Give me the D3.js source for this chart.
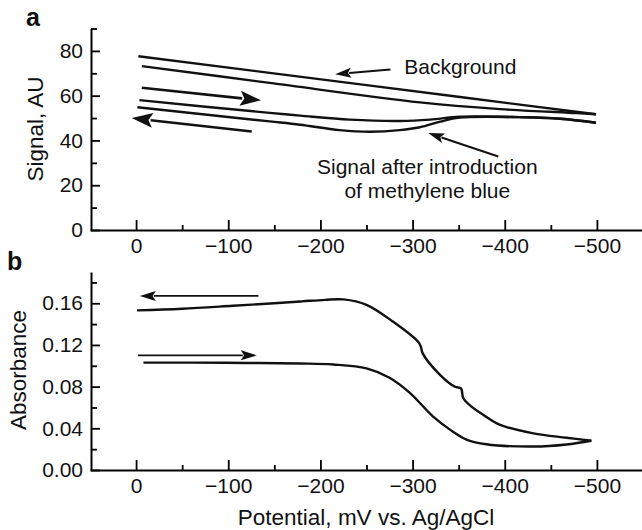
<!DOCTYPE html>
<html lang="en">
<head>
<meta charset="utf-8">
<title>Signal and absorbance vs potential</title>
<script src="https://cdn.jsdelivr.net/npm/d3@7"></script>
<style>
  body { margin: 0; background: #fff; }
  svg text { font-family: "Liberation Sans", Arial, Helvetica, sans-serif; fill: #111; }
</style>
</head>
<body>
<svg width="642" height="530"></svg>
<script>
// ---- data, panel a (signal, AU) : [potential mV, signal]
const bgUpper = [[-2.5, 77.6], [-250, 64.7], [-499, 51.7]];
const bgLower = [[-6.2, 73.2], [-145, 65.7], [-308, 57.0], [-395, 54.0], [-478, 52.2], [-499, 51.7]];
const mbForward = [[-3.6, 58.0], [-145, 52.3], [-178, 51.1], [-232, 49.3], [-286, 48.7], [-319, 49.3],
                   [-351, 50.6], [-416, 50.4], [-460, 49.7], [-499, 47.9]];
const mbReverse = [[-1.4, 54.8], [-145, 48.5], [-178, 47.0], [-221, 44.6], [-254, 43.9], [-286, 44.6],
                   [-308, 45.9], [-330, 48.4], [-351, 50.2], [-416, 50.4], [-460, 49.7], [-499, 47.9]];

// ---- data, panel b (absorbance)
const absReturn = [[-1, 0.1532], [-50, 0.1548], [-105, 0.1576], [-150, 0.1600], [-180, 0.1618], [-205, 0.1633],
                   [-225, 0.1637], [-250, 0.1585], [-279, 0.1422], [-306, 0.1230], [-309, 0.1182], [-311, 0.1119],
                   [-330, 0.0911], [-346, 0.0799], [-352.5, 0.0783], [-355, 0.0688], [-362, 0.0623], [-377, 0.0527],
                   [-395, 0.0432], [-431, 0.0352], [-467, 0.0310], [-494, 0.0281]];
const absForward = [[-8, 0.1030], [-60, 0.1030], [-120, 0.1027], [-178, 0.1022], [-214, 0.1012], [-250, 0.0975],
                    [-275, 0.0885], [-297, 0.0740], [-322, 0.0515], [-341, 0.0385], [-359, 0.0290], [-380, 0.0247],
                    [-431, 0.0225], [-467, 0.0245], [-494, 0.0281]];

// ticks
const xMajor = [0, -100, -200, -300, -400, -500];
const xMinor = [-50, -150, -250, -350, -450, -550];
const yMajorA = [0, 20, 40, 60, 80];
const yMinorA = [10, 30, 50, 70, 90];
const yMajorB = [0, 0.04, 0.08, 0.12, 0.16];
const yMinorB = [0.02, 0.06, 0.10, 0.14, 0.18];

// arrows [from, to] and annotation text
const arrowsA = [
  { from: [-6.2, 63.5], to: [-135.6, 57.9], big: true },
  { from: [-125.5, 44.0], to: [4.7, 50.0], big: true },
  { from: [-276, 71.7], to: [-216, 69.6], big: false },
  { from: [-393, 32.8], to: [-317, 43.3], big: false }
];
const arrowsB = [
  { from: [-132.7, 0.167], to: [-4, 0.167] },
  { from: [-2, 0.110], to: [-131, 0.110] }
];
const notesA = [
  { text: 'Background', at: [-291, 69.9], anchor: 'start' },
  { text: 'Signal after introduction', at: [-316, 25.1], anchor: 'middle' },
  { text: 'of methylene blue', at: [-316, 14.3], anchor: 'middle' }
];

const svg = d3.select('svg');
const x = d3.scaleLinear().domain([50, -550]).range([90, 643]);
const yA = d3.scaleLinear().domain([0, 90]).range([230, 28.5]);
const yB = d3.scaleLinear().domain([0, 0.19]).range([470, 272]);

function axes(scaleY, major, minor, fmt) {
  const base = scaleY.range()[0];
  const xg = svg.append('g').attr('transform', `translate(0,${base})`)
    .call(d3.axisBottom(x).tickValues(xMajor).tickSizeInner(-10).tickSizeOuter(0).tickPadding(8))
    .attr('font-size', 21);
  xg.select('.domain').attr('stroke-width', 2);
  xg.selectAll('.tick line').attr('stroke-width', 1.8);
  svg.append('g').attr('transform', `translate(0,${base})`)
    .call(d3.axisBottom(x).tickValues(xMinor).tickSizeInner(-5).tickSizeOuter(0).tickFormat(''))
    .call(g => g.select('.domain').remove())
    .selectAll('.tick line').attr('stroke-width', 1.8);

  const yg = svg.append('g').attr('transform', `translate(${x(50) + 1},0)`)
    .call(d3.axisLeft(scaleY).tickValues(major).tickFormat(fmt).tickSizeInner(-9).tickSizeOuter(0).tickPadding(8))
    .attr('font-size', 21);
  yg.select('.domain').attr('stroke-width', 2);
  yg.selectAll('.tick line').attr('stroke-width', 1.8);
  svg.append('g').attr('transform', `translate(${x(50) + 1},0)`)
    .call(d3.axisLeft(scaleY).tickValues(minor).tickSizeInner(-6).tickSizeOuter(0).tickFormat(''))
    .call(g => g.select('.domain').remove())
    .selectAll('.tick line').attr('stroke-width', 1.8);
}

axes(yA, yMajorA, yMinorA, d3.format('d'));
axes(yB, yMajorB, yMinorB, d3.format('.2f'));

function curve(data, scaleY) {
  svg.append('path').datum(data)
    .attr('fill', 'none').attr('stroke', '#111').attr('stroke-width', 2.4)
    .attr('stroke-linejoin', 'round')
    .attr('d', d3.line().x(d => x(d[0])).y(d => scaleY(d[1])).curve(d3.curveCatmullRom.alpha(0.5)));
}
[bgUpper, bgLower, mbForward, mbReverse].forEach(d => curve(d, yA));
[absReturn, absForward].forEach(d => curve(d, yB));

function arrow(a, scaleY, len, half, width) {
  const x1 = x(a.from[0]), y1 = scaleY(a.from[1]);
  const x2 = x(a.to[0]), y2 = scaleY(a.to[1]);
  const ang = Math.atan2(y2 - y1, x2 - x1);
  const bx = x2 - len * Math.cos(ang), by = y2 - len * Math.sin(ang);
  svg.append('line').attr('x1', x1).attr('y1', y1).attr('x2', bx + 2 * Math.cos(ang)).attr('y2', by + 2 * Math.sin(ang))
    .attr('stroke', '#111').attr('stroke-width', width);
  const px = -Math.sin(ang) * half, py = Math.cos(ang) * half;
  svg.append('path')
    .attr('d', `M${x2},${y2}L${bx + px},${by + py}L${bx + len * 0.2 * Math.cos(ang)},${by + len * 0.2 * Math.sin(ang)}L${bx - px},${by - py}Z`)
    .attr('fill', '#111');
}
arrowsA.forEach(a => a.big ? arrow(a, yA, 21, 7.5, 2.6) : arrow(a, yA, 16, 5, 2));
arrowsB.forEach(a => arrow(a, yB, 16, 5, 1.8));

svg.selectAll('text.note').data(notesA).enter().append('text')
  .attr('class', 'note')
  .attr('x', d => x(d.at[0])).attr('y', d => yA(d.at[1]))
  .attr('text-anchor', d => d.anchor)
  .attr('font-size', 21)
  .text(d => d.text);

// panel letters and axis titles
svg.append('text').attr('x', 26).attr('y', 26).attr('font-size', 25).attr('font-weight', 'bold').text('a');
svg.append('text').attr('x', 7).attr('y', 270).attr('font-size', 25).attr('font-weight', 'bold').text('b');

svg.append('text').attr('transform', 'translate(43,129) rotate(-90)')
  .attr('text-anchor', 'middle').attr('font-size', 22.5).text('Signal, AU');
svg.append('text').attr('transform', 'translate(26,370) rotate(-90)')
  .attr('text-anchor', 'middle').attr('font-size', 22.5).text('Absorbance');
svg.append('text').attr('x', 366).attr('y', 525)
  .attr('text-anchor', 'middle').attr('font-size', 22.5).text('Potential, mV vs. Ag/AgCl');
</script>
</body>
</html>
